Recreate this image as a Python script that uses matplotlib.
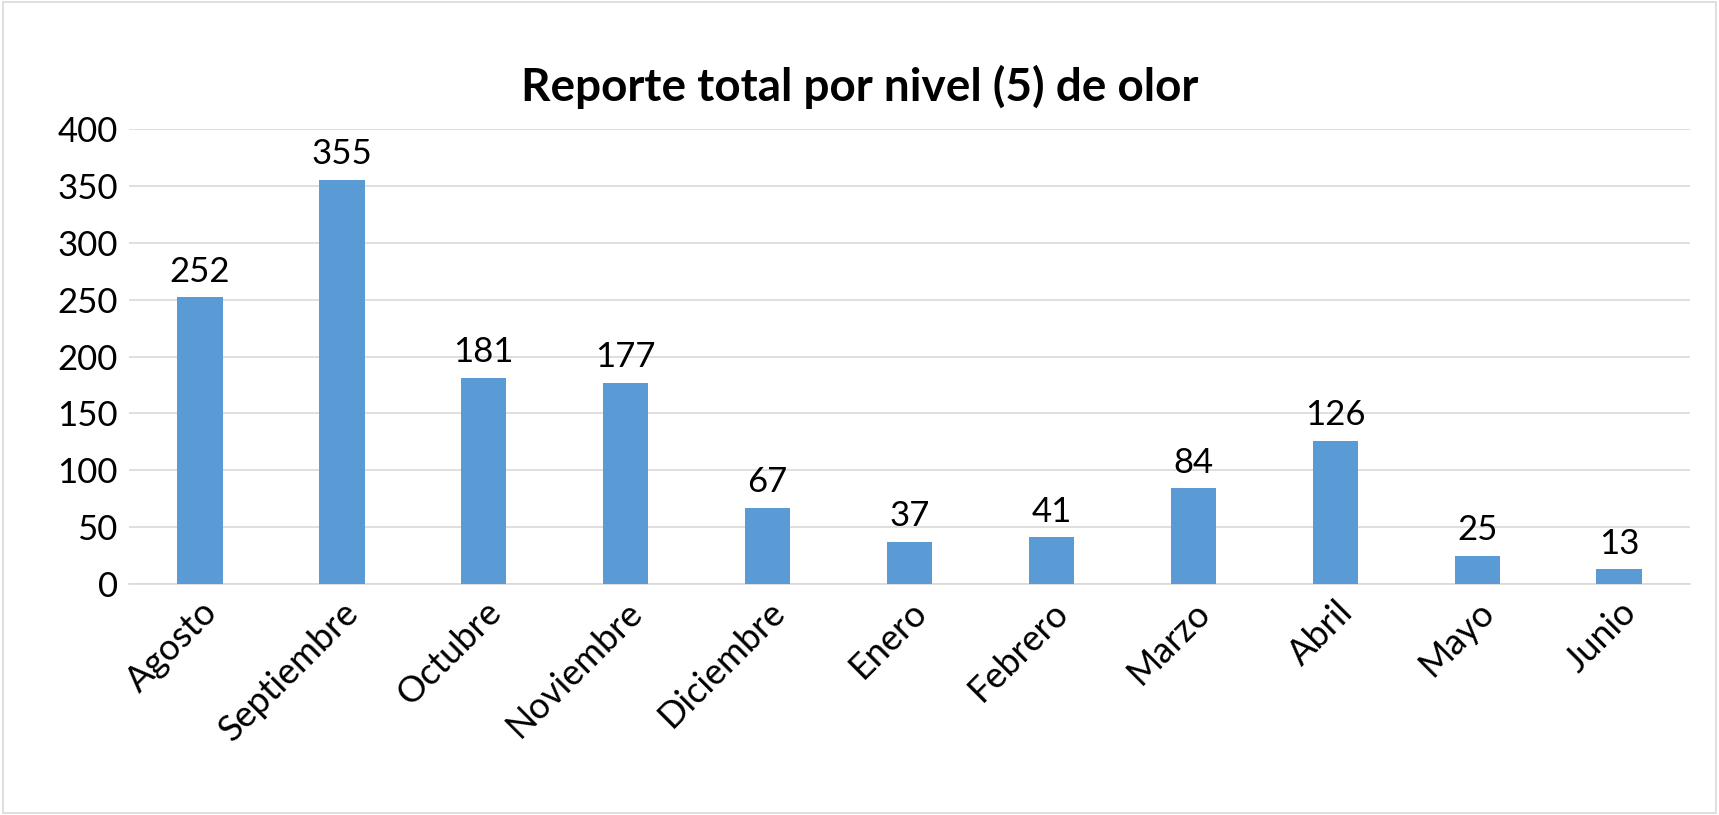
import matplotlib
matplotlib.use("Agg")
import matplotlib.pyplot as plt
from matplotlib.patches import Rectangle

# Datos del gráfico
meses = ["Agosto", "Septiembre", "Octubre", "Noviembre", "Diciembre", "Enero",
         "Febrero", "Marzo", "Abril", "Mayo", "Junio"]
reportes = [252, 355, 181, 177, 67, 37, 41, 84, 126, 25, 13]
ticks_y = [0, 50, 100, 150, 200, 250, 300, 350, 400]

plt.rcParams['font.family'] = ['Lato', 'DejaVu Sans']

fig = plt.figure(figsize=(17.19, 8.15), dpi=100)
ax = fig.add_axes([0.075, 0.2834, 0.9082, 0.5583])

x = range(len(meses))
barras = ax.bar(x, reportes, width=0.32, color="#5B9BD5", zorder=3)

# Etiquetas de valor encima de cada barra
for b, v in zip(barras, reportes):
    ax.annotate(str(v), (b.get_x() + b.get_width() / 2, v),
                xytext=(0, 7), textcoords="offset points",
                ha="center", va="bottom", fontsize=25, color="#000000")

ax.set_xlim(-0.5, len(meses) - 0.5)
ax.set_ylim(0, 400)
ax.set_yticks(ticks_y)
ax.set_yticklabels([str(t) for t in ticks_y], fontsize=25)
ax.set_xticks(list(x))
ax.set_xticklabels(meses, fontsize=26, rotation=45, ha="right",
                   rotation_mode="anchor")

ax.grid(axis="y", color="#D9D9D9", linewidth=1.2, zorder=0)
for lado in ["top", "right", "left"]:
    ax.spines[lado].set_visible(False)
ax.spines["bottom"].set_color("#D9D9D9")
ax.spines["bottom"].set_linewidth(1.2)
ax.tick_params(axis="both", length=0, pad=8)

fig.text(0.5, 0.893, "Reporte total por nivel (5) de olor", ha="center",
         va="center", fontsize=33, fontweight="bold")

# Borde del área del gráfico
fig.patches.append(Rectangle((0.002, 0.002), 0.996, 0.996, transform=fig.transFigure,
                             fill=False, edgecolor="#D9D9D9", linewidth=1.2))

plt.savefig("out.png", dpi=100)
